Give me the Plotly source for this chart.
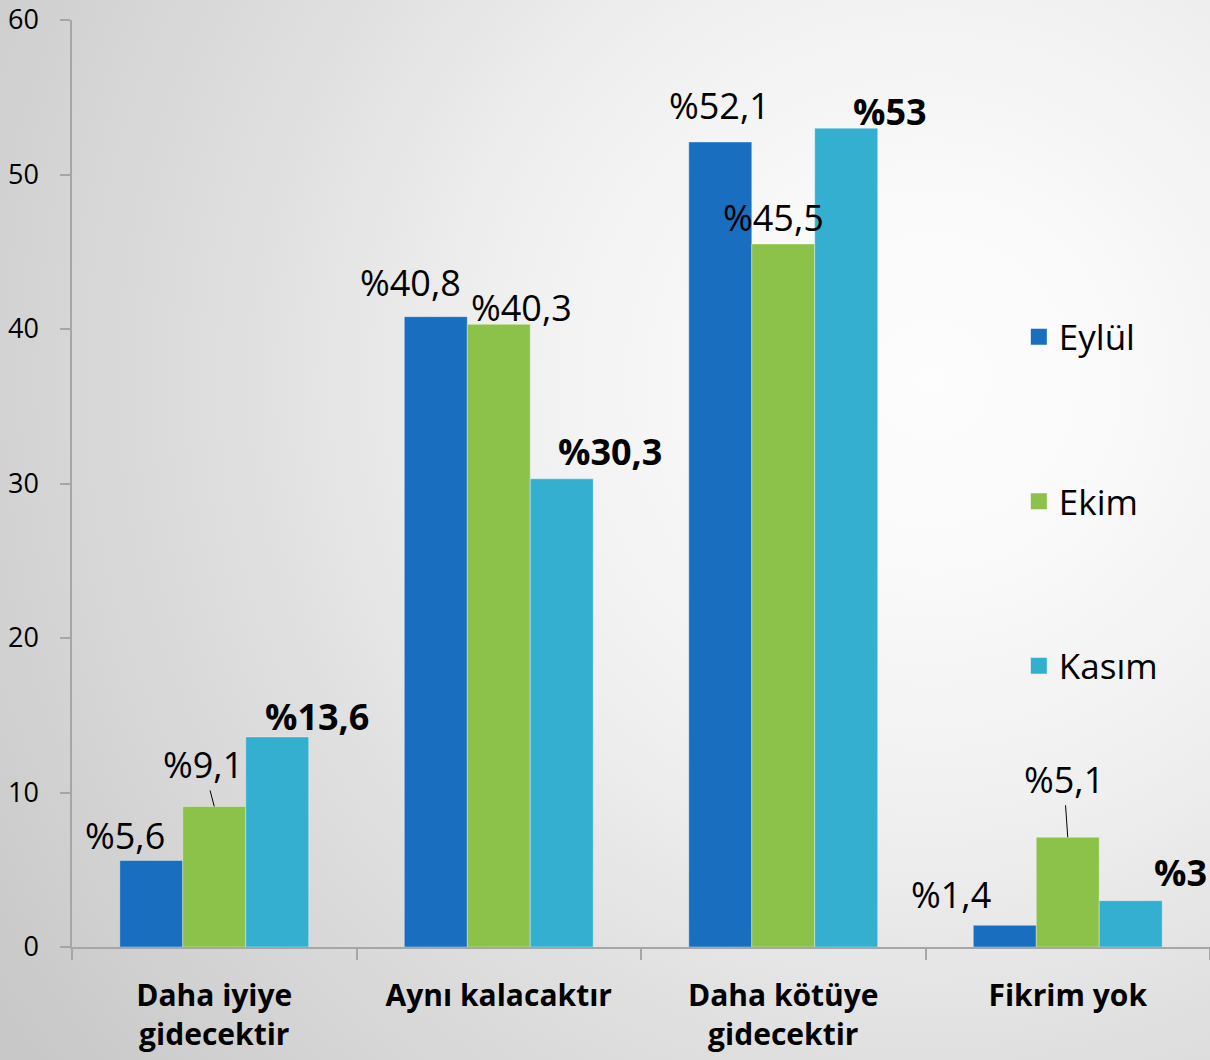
import base64
import plotly.graph_objects as go

# ---------------- data ----------------
categories = ["Daha iyiye<br>gidecektir", "Aynı kalacaktır", "Daha kötüye<br>gidecektir", "Fikrim yok"]
series_names = ["Eylül", "Ekim", "Kasım"]
eylul = [5.6, 40.8, 52.1, 1.4]
ekim = [9.1, 40.3, 45.5, 7.1]
kasim = [13.6, 30.3, 53.0, 3.0]
eylul_labels = ["%5,6", "%40,8", "%52,1", "%1,4"]
ekim_labels = ["%9,1", "%40,3", "%45,5", "%5,1"]
kasim_labels = ["%13,6", "%30,3", "%53", "%3"]
y_ticks = [0, 10, 20, 30, 40, 50, 60]

# ---------------- style ----------------
colors = ["#1a6ec0", "#8cc14a", "#35afcf"]
W, H = 1210, 1060
L, R, T, B = 72, 0, 20, 113
BARGAP = 0.336
FONT = "Open Sans"
# label offsets in px relative to top-centre of each bar (dx, dy up)
label_offsets = [
    [(-26, 25), (-25, 34), (-1, 37), (-54, 31)],
    [(-11, 42), (23, 17), (-10, 27), (-4, 58)],
    [(40, 20), (48, 27), (44, 17), (50, 28)],
]
leader = [
    [False, False, False, False],
    [True, False, False, True],
    [False, False, False, False],
]
bold = [False, False, True]

values = [eylul, ekim, kasim]
labels = [eylul_labels, ekim_labels, kasim_labels]

fig = go.Figure()
for j, (name, vals) in enumerate(zip(series_names, values)):
    fig.add_trace(go.Bar(
        x=categories, y=vals, name=name, marker_color=colors[j],
        marker_line=dict(width=1, color="rgba(255,255,255,0.35)"),
        showlegend=False, hoverinfo="skip",
    ))
# legend entries
for j, name in enumerate(series_names):
    fig.add_trace(go.Scatter(
        x=[None], y=[None], mode="markers", name=name, legendgroup=name,
        marker=dict(symbol="square", size=22, color=colors[j]),
    ))

bw = (1 - BARGAP) / 3
annotations = []
for j in range(3):
    for i in range(len(categories)):
        dx, dy = label_offsets[j][i]
        annotations.append(dict(
            x=i + (j - 1) * bw, y=values[j][i], xref="x", yref="y",
            text=labels[j][i], showarrow=True, ax=dx, ay=-dy,
            arrowhead=0, arrowwidth=1, standoff=0, startstandoff=0,
            arrowcolor="black" if leader[j][i] else "rgba(0,0,0,0)",
            font=dict(family=FONT, size=36, color="black",
                      weight="bold" if bold[j] else "normal"),
        ))

# background radial gradient as an SVG data URI
svg = f'''<svg xmlns="http://www.w3.org/2000/svg" width="{W}" height="{H}">
<defs><radialGradient id="g" gradientUnits="userSpaceOnUse" cx="930" cy="380" r="1120">
<stop offset="0" stop-color="#fdfdfd"/>
<stop offset="0.18" stop-color="#f9f9f9"/>
<stop offset="0.40" stop-color="#efefef"/>
<stop offset="0.62" stop-color="#dfdfdf"/>
<stop offset="0.84" stop-color="#d2d2d2"/>
<stop offset="1" stop-color="#c8c8c8"/>
</radialGradient></defs>
<rect width="{W}" height="{H}" fill="url(#g)"/></svg>'''
bg_uri = "data:image/svg+xml;base64," + base64.b64encode(svg.encode()).decode()

fig.update_layout(
    width=W, height=H,
    margin=dict(l=0, r=0, t=0, b=0, pad=0, autoexpand=False),
    paper_bgcolor="white", plot_bgcolor="rgba(0,0,0,0)",
    barmode="group", bargap=BARGAP, bargroupgap=0,
    font=dict(family=FONT, color="black"),
    images=[dict(source=bg_uri, xref="paper", yref="paper", x=0, y=1,
                 sizex=1, sizey=1, sizing="stretch", layer="below")],
    annotations=annotations,
    legend=dict(x=0.842, y=0.71, xanchor="left", yanchor="top",
                font=dict(family=FONT, size=35, color="black"),
                bgcolor="rgba(0,0,0,0)", tracegroupgap=116,
                itemsizing="trace"),
    showlegend=True,
)
fig.update_xaxes(
    domain=[L / W, 1 - R / W], type="category", automargin=False,
    showline=True, linecolor="#a6a6a6", linewidth=1.5,
    ticks="outside", ticklen=11, tickcolor="#a6a6a6", tickwidth=1.5,
    tickson="boundaries", showgrid=False, zeroline=False,
    tickfont=dict(family=FONT, size=30, color="black", weight="bold"),
    ticklabelstandoff=21,
)
fig.update_yaxes(
    domain=[B / H, 1 - T / H], range=[0, 60], tickvals=y_ticks, automargin=False,
    showline=True, linecolor="#a6a6a6", linewidth=1.5,
    ticks="outside", ticklen=10, tickcolor="#a6a6a6", tickwidth=1.5,
    showgrid=False, zeroline=False,
    tickfont=dict(family=FONT, size=27, color="black"),
    ticklabelstandoff=16,
)

fig.write_html(
    "out.html",
    config={"displayModeBar": False},
    post_script="document.body.style.margin='0';document.body.style.overflow='hidden';",
)
